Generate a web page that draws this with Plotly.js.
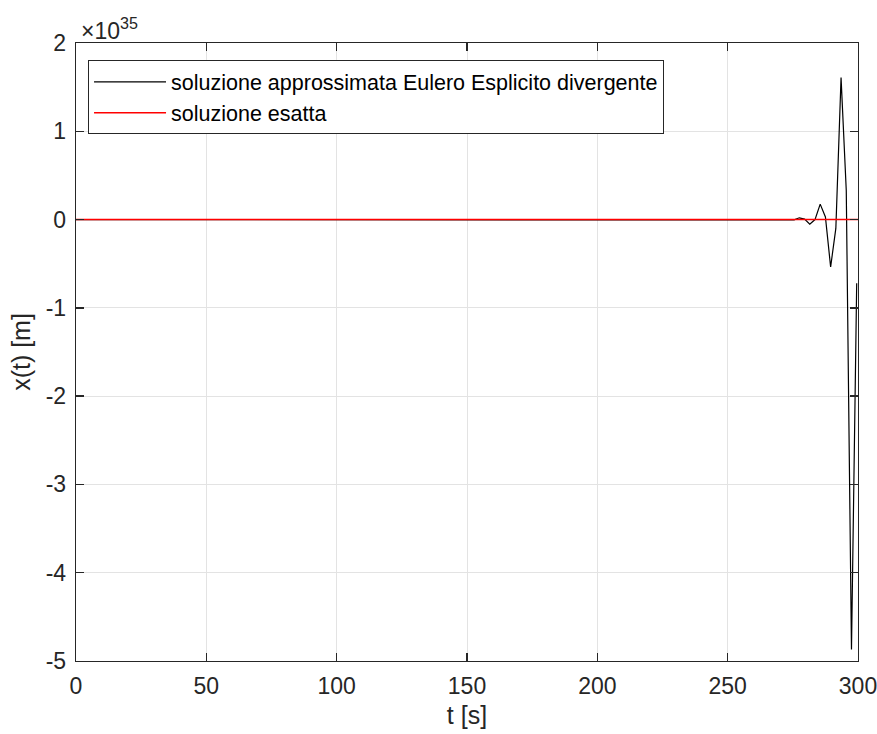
<!DOCTYPE html>
<html>
<head>
<meta charset="utf-8">
<script src="https://cdn.plot.ly/plotly-3.0.1.min.js"></script>
<style>html,body{margin:0;padding:0;background:#fff;}#chart{width:877px;height:734px;}</style>
</head>
<body>
<div id="chart"></div>
<script>
// Values, y in units of 1e35 m
const tApprox = [0, 269.5, 271.5, 273.5, 275.5, 277.5, 279.5, 281.5, 283.5, 285.5, 287.5, 289.5, 291.5, 293.5, 295.5, 297.5, 299.5];
const xApprox = [0, 0, -0.002, -0.005, -0.004, 0.02, 0.005, -0.053, 0.0, 0.175, 0.03, -0.537, -0.1, 1.608, 0.33, -4.87, -0.72];
const tExact = [0, 300];
const xExact = [0, 0];
const xTickVals = [0, 50, 100, 150, 200, 250, 300];
const xTickText = ['0', '50', '100', '150', '200', '250', '300'];
const yTickVals = [-5, -4, -3, -2, -1, 0, 1, 2];
const yTickText = ['-5', '-4', '-3', '-2', '-1', '0', '1', '2'];
const seriesNames = ['soluzione approssimata Eulero Esplicito divergente', 'soluzione esatta'];

const FONT = 'Liberation Sans, Arial, Helvetica, sans-serif';
const AX = '#262626';

const traces = [
  {x: tApprox, y: xApprox, type: 'scatter', mode: 'lines', name: seriesNames[0],
   line: {color: '#000000', width: 1.2}},
  {x: tExact, y: xExact, type: 'scatter', mode: 'lines', name: seriesNames[1],
   line: {color: '#ff0000', width: 1.4}}
];

const axisCommon = {
  showline: true, linecolor: AX, linewidth: 1.3, mirror: 'ticks',
  ticks: 'inside', ticklen: 8, tickwidth: 1.3, tickcolor: AX,
  showgrid: true, gridcolor: '#e3e3e3', gridwidth: 1,
  zeroline: false, tickfont: {family: FONT, size: 23, color: AX},
  tickmode: 'array', ticklabeloverflow: 'allow'
};

const layout = {
  width: 877, height: 734,
  margin: {l: 76, r: 19.3, t: 42.7, b: 73.3},
  paper_bgcolor: '#ffffff', plot_bgcolor: '#ffffff',
  font: {family: FONT, color: AX},
  showlegend: true,
  xaxis: Object.assign({}, axisCommon, {
    range: [0, 300], tickvals: xTickVals, ticktext: xTickText,
    ticklabelstandoff: 4, automargin: false,
    title: {text: 't [s]', font: {family: FONT, size: 25, color: AX}, standoff: 8}
  }),
  yaxis: Object.assign({}, axisCommon, {
    range: [-5, 2], tickvals: yTickVals, ticktext: yTickText,
    ticklabelstandoff: 4, automargin: false,
    title: {text: 'x(t) [m]', font: {family: FONT, size: 25, color: AX}, standoff: 8}
  }),
  legend: {
    x: 0.0154, y: 0.972, xanchor: 'left', yanchor: 'top',
    bgcolor: '#ffffff', bordercolor: AX, borderwidth: 1,
    font: {family: FONT, size: 21.5, color: '#000000'},
    itemwidth: 72, tracegroupgap: 0
  },
  annotations: [{
    xref: 'paper', yref: 'paper', x: 0, y: 1, xanchor: 'left', yanchor: 'bottom',
    xshift: 3, yshift: -3, showarrow: false,
    text: '\u00d710<sup>35</sup>', font: {family: FONT, size: 23, color: AX}
  }]
};

Plotly.newPlot('chart', traces, layout, {displayModeBar: false, staticPlot: true});
</script>
</body>
</html>
